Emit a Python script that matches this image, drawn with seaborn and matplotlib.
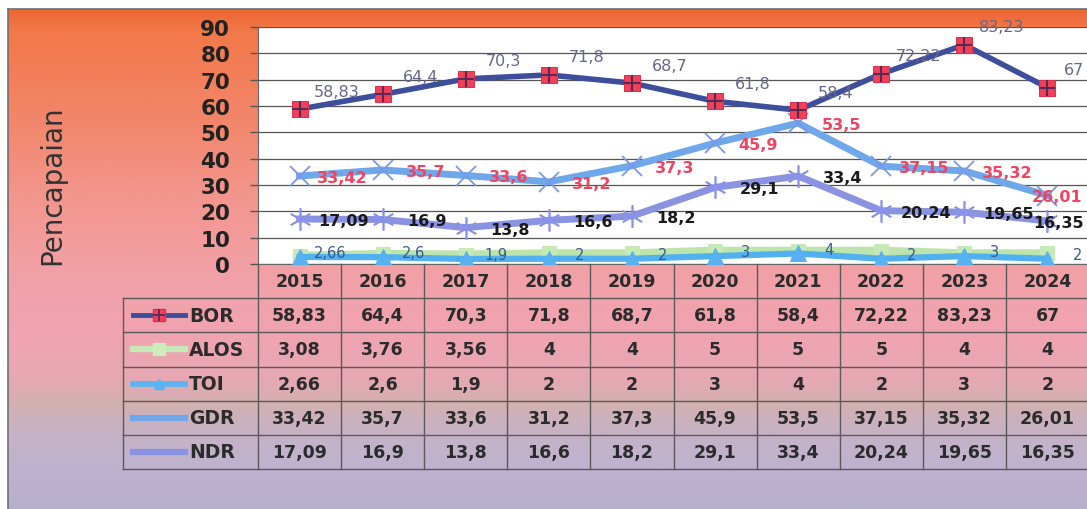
import numpy as np
import matplotlib
matplotlib.use("Agg")
import matplotlib.pyplot as plt
import seaborn as sns
from matplotlib.colors import LinearSegmentedColormap

# data
years = ["2015", "2016", "2017", "2018", "2019", "2020", "2021", "2022", "2023", "2024"]
bor = [58.83, 64.4, 70.3, 71.8, 68.7, 61.8, 58.4, 72.22, 83.23, 67]
alos = [3.08, 3.76, 3.56, 4, 4, 5, 5, 5, 4, 4]
toi = [2.66, 2.6, 1.9, 2, 2, 3, 4, 2, 3, 2]
gdr = [33.42, 35.7, 33.6, 31.2, 37.3, 45.9, 53.5, 37.15, 35.32, 26.01]
ndr = [17.09, 16.9, 13.8, 16.6, 18.2, 29.1, 33.4, 20.24, 19.65, 16.35]
series_names = ["BOR", "ALOS", "TOI", "GDR", "NDR"]
y_ticks = [0, 10, 20, 30, 40, 50, 60, 70, 80, 90]

def fmt(v):
    return f"{v:g}".replace(".", ",")

W, H = 1087, 510
fig = plt.figure(figsize=(W / 100, H / 100), dpi=100)
fig.patch.set_facecolor("white")

# gradient background (pixel coordinates)
bg = fig.add_axes([0, 0, 1, 1])
bg.set_xlim(0, W)
bg.set_ylim(H, 0)
bg.axis("off")
stops = [(0.0, "#EE6634"), (0.04, "#F27848"), (0.22, "#F2866A"), (0.38, "#F2968E"),
         (0.52, "#F2A0A6"), (0.66, "#F0A4B2"), (0.74, "#E6A8B4"), (0.79, "#D2B0B0"),
         (0.85, "#C6B2C6"), (0.92, "#BEB2D0"), (1.0, "#B6B0CE")]
cmap = LinearSegmentedColormap.from_list("bgrad", stops)
grad = np.linspace(0, 1, 256).reshape(-1, 1)
bg.imshow(grad, cmap=cmap, aspect="auto", extent=(8, W, H, 10), interpolation="bilinear")
bg.plot([8, 8], [10, H], color="#707070", lw=1.2)
bg.plot([8, W], [10, 10], color="#707070", lw=1.2)

# main plot area
cw = 83.1  # px per category
ax = fig.add_axes([258 / W, 1 - 265 / H, 10 * cw / W, 237 / H])
ax.set_facecolor("white")
xs = np.arange(len(years))

sns.lineplot(x=xs, y=alos, ax=ax, color="#BCE4AC", lw=6, marker="s", markersize=10,
             markerfacecolor="#C6EAB6", markeredgecolor="#C6EAB6", zorder=3, legend=False)
sns.lineplot(x=xs, y=toi, ax=ax, color="#50B0F0", lw=4.5, marker="^", markersize=11,
             markerfacecolor="#58B2F2", markeredgecolor="#58B2F2", zorder=4, legend=False)
sns.lineplot(x=xs, y=ndr, ax=ax, color="#8A92E2", lw=5, marker=(6, 2, 0), markersize=16,
             markeredgewidth=1.2, markeredgecolor="#8A92EA", zorder=5, legend=False)
sns.lineplot(x=xs, y=gdr, ax=ax, color="#6EA8EA", lw=5, marker="x", markersize=14,
             markeredgewidth=1.3, markeredgecolor="#7A98E8", zorder=6, legend=False)
sns.lineplot(x=xs, y=bor, ax=ax, color="#3C4E9C", lw=4, marker="s", markersize=11,
             markerfacecolor="#F0405A", markeredgecolor="#E03050", zorder=7, legend=False)
ax.plot(xs, bor, ls="none", marker="+", markersize=11, markeredgewidth=1.5,
        color="#5A2A55", zorder=8)

# data labels (last column pulled in so it stays on the picture)
last = len(years) - 1
for i, v in enumerate(bor):
    dx = 19 if i == last else 27
    ax.annotate(fmt(v), (i, v), xytext=(dx, 13), textcoords="offset points",
                ha="center", va="center", fontsize=11.5, color="#66668A", zorder=9)
for i, v in enumerate(gdr):
    dx = 7 if i == last else 31
    ax.annotate(fmt(v), (i, v), xytext=(dx, -1), textcoords="offset points",
                ha="center", va="center", fontsize=11.5, fontweight="bold",
                color="#F04460", zorder=9)
for i, v in enumerate(ndr):
    dx = 8 if i == last else 32
    ax.annotate(fmt(v), (i, v), xytext=(dx, -1), textcoords="offset points",
                ha="center", va="center", fontsize=11.5, fontweight="bold",
                color="#1A1A1A", zorder=9)
for i, v in enumerate(toi):
    ax.annotate(fmt(v), (i, v), xytext=(22, 3), textcoords="offset points",
                ha="center", va="center", fontsize=10.5, color="#3A5A8A", zorder=9)

ax.set_xlim(-0.5, 9.5)
ax.set_ylim(0, 90)
ax.set_yticks(y_ticks)
ax.set_yticklabels([str(t) for t in y_ticks], fontsize=15.5, fontweight="bold", color="#222222")
ax.set_xticks([])
ax.tick_params(axis="y", length=6, width=1, color="#555555", pad=14)
ax.grid(axis="y", color="#555555", lw=0.9)
ax.set_axisbelow(True)
for s in ["top", "right"]:
    ax.spines[s].set_visible(False)
for s in ["left", "bottom"]:
    ax.spines[s].set_color("#666666")

fig.text(52 / W, 1 - 185 / H, "Pencapaian", rotation=90, ha="center", va="center",
         fontsize=20, color="#333333")

# data table under the chart
x_left = -0.5 - (258 - 123) / cw
tab = fig.add_axes([123 / W, 1 - 470 / H, (258 - 123 + 10 * cw) / W, 205 / H])
tab.set_xlim(x_left, 9.5)
tab.set_ylim(6, 0)
tab.axis("off")
tab.patch.set_alpha(0)

lc = "#5A5A5A"
for k in range(11):
    tab.plot([k - 0.5, k - 0.5], [0, 6], color=lc, lw=1, clip_on=False)
tab.plot([x_left, x_left], [1, 6], color=lc, lw=1, clip_on=False)
for r in range(1, 7):
    tab.plot([x_left, 9.6], [r, r], color=lc, lw=1, clip_on=False)

for i, yr in enumerate(years):
    tab.text(i, 0.5, yr, ha="center", va="center", fontsize=12.5, fontweight="bold",
             color="#2B2B2B")

rows = [bor, alos, toi, gdr, ndr]
key_styles = [
    dict(color="#3C4E9C", lw=3.5, marker="s", markersize=8, markerfacecolor="#F0405A",
         markeredgecolor="#E03050"),
    dict(color="#C6EAB6", lw=4.5, marker="s", markersize=8, markerfacecolor="#CCEEBC",
         markeredgecolor="#CCEEBC"),
    dict(color="#58B4F2", lw=4, marker="^", markersize=7, markerfacecolor="#58B4F2",
         markeredgecolor="#58B4F2"),
    dict(color="#6EA8EA", lw=4.5),
    dict(color="#8A92E2", lw=4.5),
]
k0 = -0.5 + (133 - 258) / cw
k1 = -0.5 + (185 - 258) / cw
km = (k0 + k1) / 2
kt = -0.5 + (189 - 258) / cw
for r, (name, vals, st) in enumerate(zip(series_names, rows, key_styles), start=1):
    yc = r + 0.5
    tab.plot([k0, km, k1], [yc, yc, yc], markevery=[1], **st)
    if name == "BOR":
        tab.plot([km], [yc], ls="none", marker="+", markersize=8,
                 markeredgewidth=1.3, color="#5A2A55")
    tab.text(kt, yc, name, ha="left", va="center", fontsize=13.5, fontweight="bold",
             color="#2B2B2B")
    for i, v in enumerate(vals):
        tab.text(i, yc, fmt(v), ha="center", va="center", fontsize=12.5,
                 fontweight="bold", color="#2B2B2B")

fig.savefig("out.png", dpi=100)
